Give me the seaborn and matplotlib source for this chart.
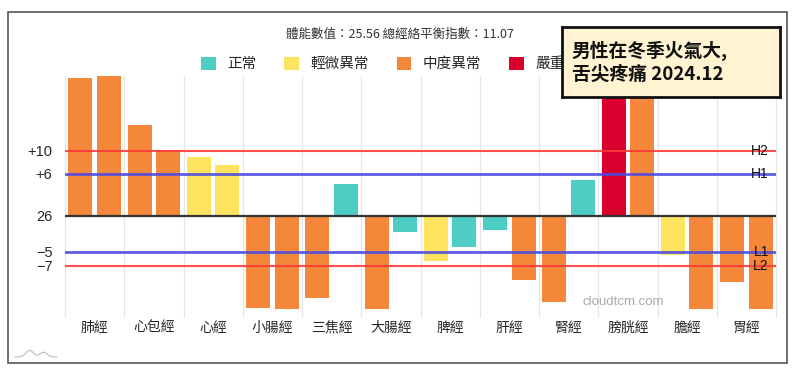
import matplotlib
matplotlib.use("Agg")
import matplotlib.pyplot as plt
import matplotlib.patches as mpatches
import seaborn as sns
import pandas as pd
import numpy as np

# ---- data ----
categories = ["肺經", "心包經", "心經", "小腸經", "三焦經", "大腸經",
              "脾經", "肝經", "腎經", "膀胱經", "膽經", "胃經"]
left_values = [19.7, 13.0, 8.4, -13.2, -11.7, -13.3, -6.5, -2.0, -12.3, 21.5, -5.6, -9.4]
right_values = [20.0, 9.4, 7.3, -13.3, 4.6, -2.3, -4.5, -9.2, 5.1, 21.0, -13.3, -13.3]
left_levels = ["中度異常", "中度異常", "輕微異常", "中度異常", "中度異常", "中度異常",
               "輕微異常", "正常", "中度異常", "嚴重異常", "輕微異常", "中度異常"]
right_levels = ["中度異常", "中度異常", "輕微異常", "中度異常", "正常", "正常",
                "正常", "中度異常", "正常", "中度異常", "中度異常", "中度異常"]
level_names = ["正常", "輕微異常", "中度異常", "嚴重異常"]
level_colors = ["#4ECDC4", "#FDE35E", "#F5873A", "#D9002E"]

tick_values = [9.3, 6.0, 0.0, -5.15, -7.15]
tick_labels = ["+10", "+6", "26", "−5", "−7"]
ref_lines = [(9.3, "H2", "#FF3B3B"), (6.0, "H1", "#4B4BE0"),
             (-5.15, "L1", "#4B4BE0"), (-7.15, "L2", "#FF3B3B")]
subtitle = "體能數值：25.56 總經絡平衡指數：11.07"
note = "男性在冬季火氣大,\n舌尖疼痛 2024.12"
watermark = "cloudtcm.com"

# ---- figure ----
sns.set_style("white")
plt.rcParams["font.family"] = ["Noto Sans CJK TC", "DejaVu Sans"]

fig = plt.figure(figsize=(8, 3.74), dpi=100)
ax = fig.add_axes([65 / 800, 1 - 310 / 374, 711 / 800, 234 / 374])

df = pd.DataFrame({
    "category": categories * 2,
    "side": ["L"] * len(categories) + ["R"] * len(categories),
    "value": left_values + right_values,
    "level": left_levels + right_levels,
})
sns.barplot(data=df, x="category", y="value", hue="side", order=categories,
            hue_order=["L", "R"], width=0.96, gap=0.15, dodge=True,
            legend=False, ax=ax, errorbar=None, saturation=1)

cmap = dict(zip(level_names, level_colors))
bars = sorted([p for p in ax.patches if p.get_width() > 0], key=lambda p: p.get_x())
levels_seq = []
for l, r in zip(left_levels, right_levels):
    levels_seq += [l, r]
for p, lv in zip(bars, levels_seq):
    p.set_facecolor(cmap[lv])
    p.set_edgecolor("none")
    p.set_zorder(2)

ax.set_xlim(-0.5, len(categories) - 0.5)
ax.set_ylim(-13.45, 20.0)
for i in range(len(categories) + 1):
    ax.axvline(i - 0.5, color="#E6E6E6", lw=0.9, zorder=0, ymin=-0.03, clip_on=False)

ax.axhline(0, color="#333333", lw=1.6, zorder=3)
for yv, name, col in ref_lines:
    ax.axhline(yv, color=col, lw=1.5 if col == "#FF3B3B" else 2.0, zorder=4, alpha=0.9)
    ax.text(len(categories) - 0.62, yv, name, ha="right", va="center",
            fontsize=10, color="#111111", zorder=5, family="Liberation Sans")

ax.set_yticks(tick_values)
ax.set_yticklabels(tick_labels, fontsize=10.5, family="Liberation Sans")
ax.tick_params(axis="y", length=0, pad=9)
ax.tick_params(axis="x", length=0, pad=8, labelsize=10)
ax.set_xlabel("")
ax.set_ylabel("")
for s in ax.spines.values():
    s.set_visible(False)

# subtitle
fig.text(0.5, 1 - 34 / 374, subtitle, ha="center", va="center", fontsize=9, color="#333333")

# legend
handles = [mpatches.Patch(facecolor=c, edgecolor="none", label=n)
           for n, c in zip(level_names, level_colors)]
fig.legend(handles=handles, loc="center", bbox_to_anchor=(0.497, 1 - 64 / 374), ncol=4,
           frameon=False, fontsize=10.5, handlelength=1.0, handleheight=1.0,
           columnspacing=1.9, handletextpad=0.8)

# watermark
ax.text(0.785, 0.035, watermark, transform=ax.transAxes, ha="center", va="center",
        fontsize=9.5, color="#AAAAAA", family="Liberation Sans", zorder=6)

# small logo mark (decorative)
lx = np.linspace(0, 1, 60)
ly = 0.55 * np.exp(-((lx - 0.35) / 0.13) ** 2) + 0.4 * np.exp(-((lx - 0.68) / 0.12) ** 2)
fig.add_artist(plt.Line2D(15 / 800 + lx * 42 / 800, 1 - 357 / 374 + ly * 12 / 374,
                          transform=fig.transFigure, color="#BBBBBB", lw=0.8))

# note box
box_ax = fig.add_axes([562 / 800, 1 - 97 / 374, 218 / 800, 70 / 374])
box_ax.set_zorder(20)
box_ax.set_xlim(0, 1)
box_ax.set_ylim(0, 1)
box_ax.set_xticks([])
box_ax.set_yticks([])
box_ax.set_facecolor("#FFF3D2")
for s in box_ax.spines.values():
    s.set_color("#111111")
    s.set_linewidth(2)
box_ax.text(0.045, 0.5, note, ha="left", va="center", fontsize=13.5,
            fontweight="bold", color="#111111", linespacing=1.25)

# outer frame
frame = mpatches.Rectangle((8 / 800, 1 - 363 / 374), 779 / 800, 351 / 374,
                           transform=fig.transFigure, fill=False,
                           edgecolor="#555555", lw=1.2)
fig.patches.append(frame)

fig.savefig("out.png", dpi=100)
